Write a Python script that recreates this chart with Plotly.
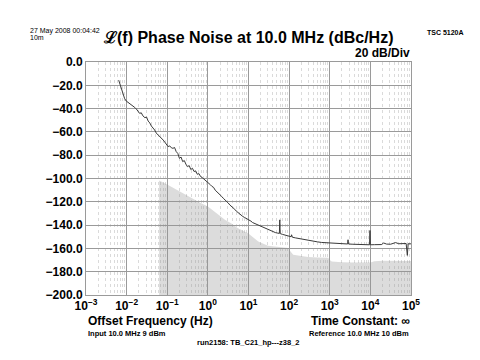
import plotly.graph_objects as go

# ---- data ----
# measured phase noise: log10(offset frequency in Hz) and L(f) in dBc/Hz
noise_logf = [-2.195, -2.16, -2.13, -2.09, -2.05, -2.01, -1.96, -1.92, -1.88, -1.84, -1.80, -1.76,
              -1.72, -1.68, -1.64, -1.60, -1.55, -1.51, -1.47, -1.43, -1.39, -1.35, -1.31, -1.27,
              -1.23, -1.19, -1.15, -1.10, -1.06, -1.02, -0.98, -0.94, -0.90, -0.86, -0.82, -0.78,
              -0.74, -0.70, -0.66, -0.62, -0.58, -0.54, -0.50, -0.46, -0.42, -0.38, -0.34, -0.30,
              -0.26, -0.22, -0.18, -0.14, -0.10, -0.06, -0.02, 0.02, 0.06, 0.10, 0.14, 0.18, 0.22,
              0.26, 0.30, 0.34, 0.38, 0.42, 0.46, 0.50, 0.54, 0.58, 0.62, 0.66, 0.70, 0.74, 0.78,
              0.82, 0.86, 0.90, 0.94, 0.98, 1.02, 1.06, 1.10, 1.14, 1.18, 1.24, 1.30, 1.36, 1.42,
              1.48, 1.54, 1.60, 1.66, 1.72, 1.76, 1.77, 1.78, 1.84, 1.92, 2.00, 2.05, 2.06, 2.08,
              2.16, 2.24, 2.32, 2.40, 2.50, 2.60, 2.70, 2.80, 2.90, 3.00, 3.10, 3.20, 3.30, 3.40,
              3.44, 3.45, 3.46, 3.55, 3.65, 3.75, 3.85, 3.95, 3.98, 3.99, 4.00, 4.10, 4.20, 4.28,
              4.32, 4.40, 4.50, 4.59, 4.62, 4.70, 4.81, 4.88, 4.91, 4.93, 5.00]
noise_db = [-15.6, -19.5, -22.7, -27.5, -31.3, -33.5, -34.8, -35.6, -36.8, -37.5, -39.0, -40.4,
            -42.0, -44.1, -43.6, -46.2, -47.8, -47.2, -50.7, -52.3, -55.0, -56.6, -58.4, -61.0,
            -62.3, -64.0, -65.6, -67.0, -68.8, -70.5, -72.6, -72.0, -73.6, -74.1, -73.4, -76.9,
            -78.5, -82.7, -81.6, -85.5, -84.6, -87.8, -89.8, -88.9, -92.3, -91.2, -94.0, -93.5,
            -96.4, -95.8, -98.3, -99.2, -100.4, -101.2, -102.8, -103.5, -105.3, -106.8, -107.6, -110.0, -111.2,
            -112.8, -114.2, -115.4, -117.0, -118.1, -119.8, -121.0, -122.7, -123.8, -125.5, -126.4, -128.0, -129.3, -130.4,
            -131.6, -132.6, -133.4, -134.2, -134.6, -135.8, -136.6, -137.8, -138.4, -139.3, -140.2, -141.3, -142.3, -143.2,
            -144.0, -145.0, -145.7, -146.4, -146.9, -147.1, -135.5, -147.3, -148.0, -148.9, -149.6, -150.0, -148.3, -150.4,
            -151.0, -151.6, -152.1, -152.6, -153.3, -153.8, -154.4, -154.9, -155.2, -155.5, -155.7, -155.9, -156.0, -156.1,
            -156.2, -152.6, -156.2, -156.4, -156.6, -156.7, -156.8, -156.9, -156.9, -144.6, -156.9, -156.8, -156.6, -156.7,
            -155.3, -156.3, -156.4, -155.5, -155.0, -156.0, -156.1, -155.8, -166.0, -156.0, -156.1]

# system noise floor (grey area)
floor_logf = [-1.20, -1.20, -0.98, -0.70, -0.41, -0.20, 0.00, 0.20, 0.42, 0.60, 0.74, 0.99,
              1.10, 1.24, 1.48, 1.70, 1.98, 2.02, 2.10, 2.30, 2.47, 2.70, 2.96, 3.00, 3.05,
              3.30, 3.60, 4.00, 4.10, 4.30, 4.60, 4.80, 5.00]
floor_db = [-200, -101.8, -105.5, -111.0, -116.9, -120.5, -124.0, -129.2, -135.5, -139.0, -142.6,
            -146.9, -150.0, -154.0, -157.8, -158.8, -159.7, -162.0, -165.5, -166.5, -167.4,
            -167.8, -168.0, -170.0, -171.3, -171.8, -172.2, -172.0, -171.0, -170.6, -170.8,
            -170.5, -170.9]

y_ticks = [0, -20, -40, -60, -80, -100, -120, -140, -160, -180, -200]
y_tick_text = ["0.0", "\u221220.0", "\u221240.0", "\u221260.0", "\u221280.0", "\u2212100.0",
               "\u2212120.0", "\u2212140.0", "\u2212160.0", "\u2212180.0", "\u2212200.0"]
x_ticks = [1e-3, 1e-2, 1e-1, 1e0, 1e1, 1e2, 1e3, 1e4, 1e5]
x_tick_text = ["10<sup>\u22123</sup>", "10<sup>\u22122</sup>", "10<sup>\u22121</sup>", "10<sup>0</sup>",
               "10<sup>1</sup>", "10<sup>2</sup>", "10<sup>3</sup>", "10<sup>4</sup>", "10<sup>5</sup>"]

Y_MIN, Y_MAX = -200, 0

noise_f = [10 ** v for v in noise_logf]
floor_f = [10 ** v for v in floor_logf]

fig = go.Figure()
fig.add_trace(go.Scatter(x=floor_f, y=[Y_MIN] * len(floor_f), mode="lines",
                         line=dict(width=0), hoverinfo="skip", showlegend=False))
fig.add_trace(go.Scatter(x=floor_f, y=floor_db, mode="lines", fill="tonexty",
                         fillcolor="rgba(150,150,150,0.33)", line=dict(width=0, color="#d0d0d0"),
                         showlegend=False))
fig.add_trace(go.Scatter(x=noise_f, y=noise_db, mode="lines",
                         line=dict(color="#3a3a3a", width=1), showlegend=False))

FONT = "Liberation Sans, Arial, sans-serif"
fig.update_layout(
    width=480, height=360,
    margin=dict(l=78, r=77, t=54, b=73),
    paper_bgcolor="white", plot_bgcolor="white",
    font=dict(family=FONT, color="black", size=12),
    xaxis=dict(type="log", range=[-3, 5], tickvals=x_ticks,
               ticktext=["<b>%s</b>" % t for t in x_tick_text],
               tickfont=dict(size=12, family=FONT, color="black"), showgrid=True,
               gridcolor="#9a9a9a", gridwidth=1,
               minor=dict(showgrid=True, gridcolor="#dadada", griddash="dot",
                          tickvals=[m * 10 ** e for e in range(-3, 5) for m in range(2, 10)]),
               showline=True, linecolor="#9a9a9a", mirror=True, zeroline=False, ticks=""),
    yaxis=dict(range=[Y_MIN, Y_MAX], tickvals=y_ticks,
               ticktext=["<b>%s</b>" % t for t in y_tick_text],
               tickfont=dict(size=12, family=FONT, color="black"), showgrid=True,
               gridcolor="#9a9a9a", gridwidth=1,
               showline=True, linecolor="#9a9a9a", mirror=True, zeroline=False, ticks=""),
)

def px(x):
    return (x - 78) / 325.0

def py(y):
    return (287 - y) / 233.0

def note(text, x, y, size, xanchor="left", bold=True):
    fig.add_annotation(text=("<b>%s</b>" % text) if bold else text, x=px(x), y=py(y),
                       xref="paper", yref="paper", showarrow=False, xanchor=xanchor,
                       yanchor="middle", font=dict(size=size, family=FONT, color="black"))

note("\u2112(f) Phase Noise at 10.0 MHz (dBc/Hz)", 240, 29, 16, "center")
note("20 dB/Div", 404, 45, 12, "right")
note("27 May 2008 00:04:42", 20, 23, 7, "left", bold=False)
note("10m", 20, 30, 7, "left", bold=False)
note("TSC 5120A", 417, 24, 7, "left")
note("Offset Frequency (Hz)", 78, 313, 12, "left")
note("Time Constant: \u221e", 404, 313, 12, "right")
note("Input 10.0 MHz 9 dBm", 78, 325, 7.5, "left")
note("Reference 10.0 MHz 10 dBm", 403, 325, 7.5, "right")
note("run2158: TB_C21_hp---z38_2", 240, 334, 7.5, "center")

fig.write_html("out.html")
